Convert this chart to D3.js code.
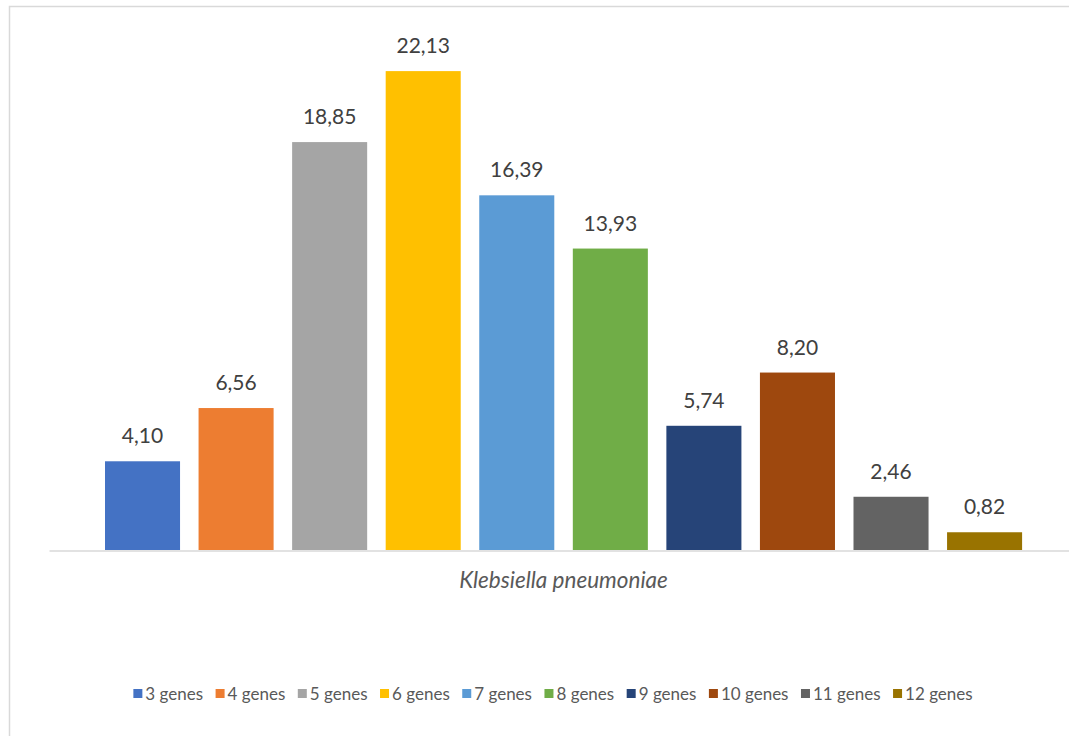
<!DOCTYPE html>
<html>
<head>
<meta charset="utf-8">
<script src="https://cdn.jsdelivr.net/npm/d3@7"></script>
<style>
  html, body { margin: 0; padding: 0; background: #fff; }
  svg { display: block; }
</style>
</head>
<body>
<svg id="chart" width="1069" height="736"></svg>
<script>
const seriesNames = ["3 genes", "4 genes", "5 genes", "6 genes", "7 genes", "8 genes", "9 genes", "10 genes", "11 genes", "12 genes"];
const seriesValues = [4.10, 6.56, 18.85, 22.13, 16.39, 13.93, 5.74, 8.20, 2.46, 0.82];
const seriesColors = ["#4472C4", "#ED7D31", "#A5A5A5", "#FFC000", "#5B9BD5", "#70AD47", "#264478", "#9E480E", "#636363", "#997300"];
const categoryLabel = "Klebsiella pneumoniae";
const yDomain = [0, 25];

const svg = d3.select("#chart");
const fmt = v => d3.format(".2f")(v).replace(".", ",");

// chart border
svg.append("rect")
  .attr("x", 9.5).attr("y", 6.5)
  .attr("width", 1200).attr("height", 900)
  .attr("fill", "none").attr("stroke", "#d9d9d9").attr("stroke-width", 1.5);

const x = d3.scaleBand().domain(seriesNames).range([105, 1022.1]).paddingInner(0.198).paddingOuter(0);
const y = d3.scaleLinear().domain(yDomain).range([550, 9]);

// baseline axis
const axis = d3.axisBottom(d3.scaleLinear().range([49, 1069])).ticks(0).tickSize(0).tickFormat("");
const axG = svg.append("g").attr("transform", `translate(0,${y(0) + 0.5})`).call(axis);
axG.select(".domain").attr("stroke", "#d9d9d9").attr("stroke-width", 1.5);

const data = seriesNames.map((n, i) => ({ name: n, value: seriesValues[i], color: seriesColors[i] }));

svg.append("g").selectAll("rect").data(data).join("rect")
  .attr("x", d => x(d.name))
  .attr("y", d => y(d.value))
  .attr("width", x.bandwidth())
  .attr("height", d => y(0) - y(d.value))
  .attr("fill", d => d.color);

svg.append("g").selectAll("text").data(data).join("text")
  .attr("x", d => x(d.name) + x.bandwidth() / 2)
  .attr("y", d => y(d.value) - 18)
  .attr("text-anchor", "middle")
  .attr("font-family", "Lato, sans-serif")
  .attr("font-size", 21)
  .attr("fill", "#404040")
  .text(d => fmt(d.value));

svg.append("text")
  .attr("x", 563.5).attr("y", 588)
  .attr("text-anchor", "middle")
  .attr("font-family", "Lato, sans-serif")
  .attr("font-style", "italic")
  .attr("font-size", 22.5)
  .attr("fill", "#595959")
  .text(categoryLabel);

// legend
const lg = svg.append("g");
const items = lg.selectAll("g").data(data).join("g");
items.append("rect").attr("width", 9).attr("height", 9).attr("y", -11).attr("fill", d => d.color);
items.append("text").attr("x", 12).attr("y", 0)
  .attr("font-family", "Lato, sans-serif").attr("font-size", 17).attr("fill", "#595959")
  .text(d => d.name);
let cx = 0;
items.each(function() {
  const w = d3.select(this).select("text").node().getComputedTextLength();
  d3.select(this).attr("transform", `translate(${cx},0)`);
  cx += 12 + w + 12.5;
});
const total = cx - 12.5;
lg.attr("transform", `translate(${553 - total / 2},700)`);
</script>
</body>
</html>
